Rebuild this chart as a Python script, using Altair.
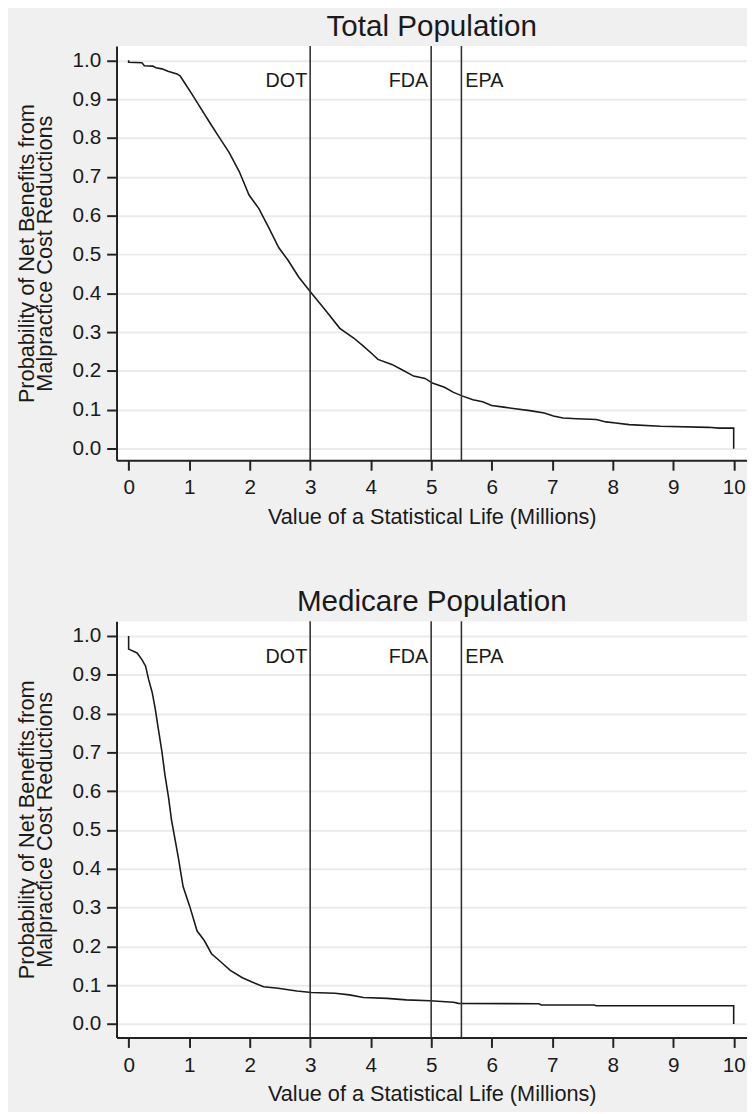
import altair as alt
import pandas as pd

FONT = "Liberation Sans"

# ---- data ----
total_x = [0, 0, 0.22, 0.26, 0.40, 0.45, 0.55, 0.65, 0.80, 0.85, 0.93, 1.07, 1.17, 1.34, 1.50,
           1.66, 1.83, 1.99, 2.15, 2.32, 2.48, 2.64, 2.81, 3.00, 3.25, 3.49, 3.72, 3.88, 4.04,
           4.12, 4.35, 4.51, 4.71, 4.90, 5.02, 5.22, 5.37, 5.51, 5.69, 5.85, 6.00, 6.20, 6.39,
           6.63, 6.87, 7.02, 7.18, 7.41, 7.73, 7.89, 8.05, 8.27, 8.79, 9.58, 9.76, 10.0, 10.0]
total_y = [1.0, 0.995, 0.994, 0.986, 0.985, 0.981, 0.978, 0.972, 0.965, 0.960, 0.941, 0.907,
           0.882, 0.840, 0.801, 0.763, 0.713, 0.653, 0.619, 0.568, 0.518, 0.484, 0.442, 0.405,
           0.357, 0.310, 0.285, 0.264, 0.242, 0.230, 0.217, 0.204, 0.187, 0.181, 0.169, 0.158,
           0.145, 0.136, 0.126, 0.121, 0.111, 0.107, 0.103, 0.098, 0.092, 0.084, 0.079, 0.077,
           0.075, 0.069, 0.066, 0.062, 0.058, 0.055, 0.053, 0.053, 0.0]

medicare_x = [0, 0, 0.14, 0.22, 0.28, 0.33, 0.39, 0.44, 0.49, 0.55, 0.60, 0.66, 0.71, 0.77,
              0.82, 0.90, 1.01, 1.13, 1.25, 1.37, 1.53, 1.68, 1.88, 2.04, 2.23, 2.47, 2.78,
              3.02, 3.41, 3.65, 3.88, 4.27, 4.59, 4.98, 5.37, 5.45, 6.78, 6.82, 7.69, 7.73,
              10.0, 10.0]
medicare_y = [1.0, 0.966, 0.956, 0.939, 0.922, 0.888, 0.854, 0.812, 0.761, 0.702, 0.642,
              0.583, 0.524, 0.473, 0.430, 0.354, 0.303, 0.240, 0.215, 0.181, 0.159, 0.138,
              0.119, 0.108, 0.096, 0.092, 0.085, 0.081, 0.079, 0.075, 0.068, 0.066, 0.062,
              0.060, 0.056, 0.053, 0.052, 0.049, 0.049, 0.047, 0.047, 0.0]

agency_labels = ["DOT", "FDA", "EPA"]
agency_values = [3, 5, 5.5]
label_y = 0.946

x_ticks = list(range(0, 11))
y_ticks = [round(i / 10, 1) for i in range(0, 11)]

x_title = "Value of a Statistical Life (Millions)"
y_title = ["Probability of Net Benefits from", "Malpractice Cost Reductions"]

INK = "#1a1a1a"


def panel(title, xs, ys, ydomain, height):
    df = pd.DataFrame({"x": xs, "y": ys, "i": list(range(len(xs)))})
    rules_df = pd.DataFrame({"x": agency_values, "label": agency_labels,
                             "ly": [label_y] * len(agency_values)})

    xscale = alt.Scale(domain=[-0.2, 10.22], nice=False, zero=False)
    yscale = alt.Scale(domain=ydomain, nice=False, zero=False)

    xaxis = alt.Axis(values=x_ticks, format="d", grid=False, title=x_title,
                     labelPadding=7, titleBaseline="alphabetic", titleY=64)
    yaxis = alt.Axis(values=y_ticks, format=".1f", grid=True, title=y_title,
                     labelPadding=6, titleBaseline="alphabetic", titleX=-84,
                     titleY=height / 2, titleLineHeight=18.5)

    line = alt.Chart(df).mark_line(color=INK, strokeWidth=1.6).encode(
        x=alt.X("x:Q", scale=xscale, axis=xaxis),
        y=alt.Y("y:Q", scale=yscale, axis=yaxis),
        order="i:Q",
    )
    rules = alt.Chart(rules_df).mark_rule(color="#333333", strokeWidth=1.6).encode(
        x=alt.X("x:Q", scale=xscale)
    )
    txt_left = alt.Chart(rules_df[rules_df["label"] != "EPA"]).mark_text(
        align="right", baseline="middle", dx=-3, fontSize=20, font=FONT, color=INK
    ).encode(x=alt.X("x:Q", scale=xscale), y=alt.Y("ly:Q", scale=yscale), text="label:N")
    txt_right = alt.Chart(rules_df[rules_df["label"] == "EPA"]).mark_text(
        align="left", baseline="middle", dx=4, fontSize=20, font=FONT, color=INK
    ).encode(x=alt.X("x:Q", scale=xscale), y=alt.Y("ly:Q", scale=yscale), text="label:N")

    return alt.layer(line, rules, txt_left, txt_right).properties(
        width=639, height=height,
        title=alt.TitleParams(title, fontSize=30, font=FONT, fontWeight="normal",
                              color=INK, anchor="middle", baseline="alphabetic", offset=-20.5),
    )


top = panel("Total Population", total_x, total_y, [-0.030, 1.037], 420)
bottom = panel("Medicare Population", medicare_x, medicare_y, [-0.035, 1.038], 422)

chart = alt.vconcat(top, bottom, spacing=60).properties(
    background="#f0f0f0",
    padding={"left": 7, "top": -4, "right": 0, "bottom": 0},
).configure_view(
    fill="white", strokeWidth=0
).configure_axis(
    domainColor="#222222", domainWidth=2, tickColor="#222222", tickWidth=2, tickSize=10,
    labelFont=FONT, labelFontSize=21, labelColor=INK,
    titleFont=FONT, titleFontSize=22, titleFontWeight="normal", titleColor=INK,
    gridColor="#ebebeb", gridWidth=2,
)

chart.save("out.html", embed_options={"renderer": "svg", "actions": False})
